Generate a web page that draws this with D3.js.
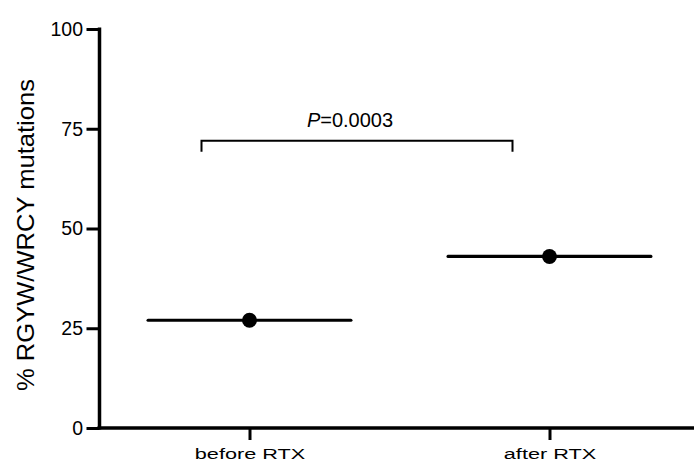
<!DOCTYPE html>
<html>
<head>
<meta charset="utf-8">
<script src="https://cdn.jsdelivr.net/npm/d3@7"></script>
<style>
  html, body { margin: 0; padding: 0; background: #fff; }
  svg { display: block; font-family: "Liberation Sans", Arial, Helvetica, sans-serif; }
</style>
</head>
<body>
<svg id="chart" width="694" height="464"></svg>
<script>
// Groups and their mean values (% RGYW/WRCY mutations)
const categories = ["before RTX", "after RTX"];
const means = [27, 43];
const yTicks = [0, 25, 50, 75, 100];
const yLabel = "% RGYW/WRCY mutations";
const pLabelItalic = "P";
const pLabelRest = "=0.0003";
const bracketLevel = 72;

const W = 694, H = 464;
const FONT = "'Liberation Sans', Arial, Helvetica, sans-serif";
const svg = d3.select("#chart");

const y = d3.scaleLinear().domain([0, 100]).range([428, 29]);
const x = d3.scalePoint().domain(categories).range([99.5, 699.5]).padding(0.5);
const halfLen = 0.338 * x.step();   // half-length of the mean line

// Y axis
const yAxis = svg.append("g")
  .attr("transform", "translate(99.5,0)")
  .call(d3.axisLeft(y).tickValues(yTicks).tickSize(13).tickSizeOuter(0).tickPadding(3.5));
yAxis.select(".domain").attr("stroke-width", 3.5).attr("d", `M0,${y(0) + 1.5}V${y(100) - 1.5}`);
yAxis.selectAll(".tick line").attr("stroke-width", 3);
yAxis.selectAll(".tick text").attr("font-size", 19.5).attr("fill", "#000").attr("font-family", FONT);

// X axis (category labels are set wide)
const xAxis = svg.append("g")
  .attr("transform", `translate(0,${y(0)})`)
  .call(d3.axisBottom(x).tickSize(12).tickSizeOuter(0));
xAxis.select(".domain").attr("stroke-width", 3.5).attr("d", `M97.5,0H${W}`);
xAxis.selectAll(".tick line").attr("stroke-width", 3);
xAxis.selectAll(".tick text").attr("font-size", 15.5).attr("fill", "#000").attr("font-family", FONT)
  .attr("dy", null).attr("y", 31.5)
  .attr("transform", "scale(1.4,1)");

// Y axis title
svg.append("text")
  .attr("transform", `translate(34,${(y(0) + y(100)) / 2 + 6.5}) rotate(-90)`)
  .attr("text-anchor", "middle")
  .attr("font-size", 24)
  .attr("textLength", 312)
  .attr("lengthAdjust", "spacingAndGlyphs")
  .attr("fill", "#000")
  .text(yLabel);

// Mean lines and points
const groups = categories.map((c, i) => ({ c, v: means[i] }));
svg.selectAll(".mean-line").data(groups).enter().append("line")
  .attr("class", "mean-line")
  .attr("x1", d => x(d.c) - halfLen)
  .attr("x2", d => x(d.c) + halfLen)
  .attr("y1", d => y(d.v)).attr("y2", d => y(d.v))
  .attr("stroke", "#000").attr("stroke-width", 3.2).attr("stroke-linecap", "round");
svg.selectAll(".mean-dot").data(groups).enter().append("circle")
  .attr("class", "mean-dot")
  .attr("cx", d => x(d.c))
  .attr("cy", d => y(d.v))
  .attr("r", 7.5)
  .attr("fill", "#000");

// Significance bracket
const bx0 = x(categories[0]) - 48;
const bx1 = x(categories[1]) - 37;
const by = y(bracketLevel);
svg.append("path")
  .attr("d", `M${bx0},${by + 11}V${by}H${bx1}V${by + 11}`)
  .attr("fill", "none").attr("stroke", "#000").attr("stroke-width", 2);
const pText = svg.append("text")
  .attr("x", (bx0 + bx1) / 2 - 7)
  .attr("y", by - 14)
  .attr("text-anchor", "middle")
  .attr("font-size", 20)
  .attr("fill", "#000");
pText.append("tspan").attr("font-style", "italic").text(pLabelItalic);
pText.append("tspan").text(pLabelRest);
</script>
</body>
</html>
